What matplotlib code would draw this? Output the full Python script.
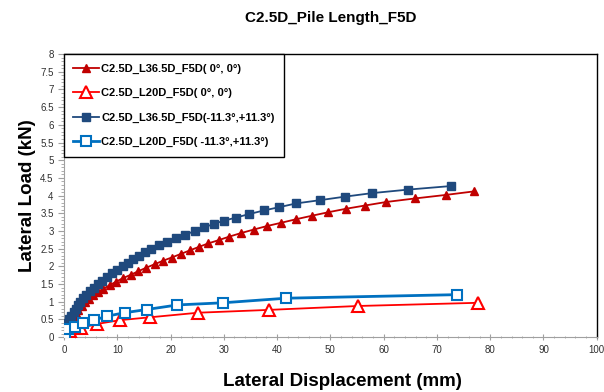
import matplotlib
matplotlib.use('Agg')
import matplotlib.pyplot as plt
from matplotlib.ticker import MultipleLocator, FuncFormatter

plt.rcParams['font.family'] = ['Liberation Sans', 'DejaVu Sans']

# C2.5D_L36.5D_F5D( 0°, 0°)  - 빨간 채운 삼각형
red_load = [0, 0.10, 0.20, 0.29, 0.39, 0.49, 0.59, 0.69, 0.78, 0.88, 0.98, 1.08, 1.18, 1.27,
            1.37, 1.47, 1.57, 1.67, 1.76, 1.86, 1.96, 2.06, 2.16, 2.25, 2.35, 2.45, 2.55, 2.65,
            2.74, 2.84, 2.94, 3.04, 3.14, 3.23, 3.33, 3.43, 3.53, 3.63, 3.72, 3.82, 3.92, 4.02, 4.12]
red_disp = [0, 0.1, 0.3, 0.6, 0.9, 1.3, 1.7, 2.2, 2.7, 3.3, 3.9, 4.6, 5.4, 6.3,
            7.4, 8.6, 9.8, 11.1, 12.5, 13.9, 15.4, 17.0, 18.6, 20.2, 21.9, 23.6, 25.3, 27.1,
            29.0, 31.0, 33.2, 35.6, 38.1, 40.7, 43.5, 46.5, 49.6, 53.0, 56.5, 60.5, 65.9, 71.7, 77.0]

# C2.5D_L20D_F5D( 0°, 0°)  - 빨간 빈 삼각형
red2_load = [0, 0.10, 0.18, 0.26, 0.37, 0.48, 0.56, 0.69, 0.77, 0.88, 0.97]
red2_disp = [0, 0.4, 1.1, 3.2, 6.1, 10.5, 16.1, 25.2, 38.5, 55.2, 77.7]

# C2.5D_L36.5D_F5D(-11.3°,+11.3°)  - 남색 채운 사각형
blue_load = [0, 0.1, 0.2, 0.3, 0.4, 0.5, 0.6, 0.7, 0.8, 0.9, 1.0, 1.1, 1.2, 1.3, 1.4, 1.5,
             1.6, 1.7, 1.8, 1.9, 2.0, 2.1, 2.2, 2.3, 2.4, 2.5, 2.6, 2.7, 2.8, 2.9, 3.0,
             3.1, 3.2, 3.29, 3.38, 3.48, 3.58, 3.67, 3.78, 3.87, 3.97, 4.07, 4.17, 4.27]
blue_disp = [0, 0.05, 0.2, 0.4, 0.7, 1.0, 1.4, 1.8, 2.2, 2.6, 3.0, 3.6, 4.2, 4.9, 5.6, 6.4,
             7.2, 8.1, 9.0, 10.0, 11.0, 12.0, 13.0, 14.1, 15.2, 16.4, 17.8, 19.3, 21.0, 22.8, 24.6,
             26.3, 28.1, 30.0, 32.3, 34.8, 37.5, 40.3, 43.6, 48.0, 52.7, 57.8, 64.6, 72.6]

# C2.5D_L20D_F5D( -11.3°,+11.3°)  - 파란 빈 사각형
blue2_load = [0, 0.10, 0.22, 0.29, 0.40, 0.48, 0.59, 0.69, 0.78, 0.91, 0.97, 1.10, 1.20]
blue2_disp = [0, 0.2, 0.8, 2.1, 3.6, 5.7, 8.0, 11.4, 15.5, 21.3, 29.8, 41.7, 73.7]

fig = plt.figure(figsize=(6.04, 3.92), dpi=100)
ax = fig.add_axes([0.106, 0.140, 0.882, 0.722])

ax.plot(red_disp, red_load, color='#C00000', lw=1.3, marker='^', ms=5.5,
        mfc='#C00000', mec='#C00000', label='C2.5D_L36.5D_F5D( 0°, 0°)', zorder=3)
ax.plot(red2_disp, red2_load, color='#FF0000', lw=1.3, marker='^', ms=9,
        mfc='white', mec='#FF0000', mew=1.5, label='C2.5D_L20D_F5D( 0°, 0°)', zorder=3)
ax.plot(blue_disp, blue_load, color='#1F497D', lw=1.3, marker='s', ms=5.5,
        mfc='#1F497D', mec='#1F497D', label='C2.5D_L36.5D_F5D(-11.3°,+11.3°)', zorder=4)
ax.plot(blue2_disp, blue2_load, color='#0070C0', lw=2.0, marker='s', ms=7.5,
        mfc='white', mec='#0070C0', mew=1.5, label='C2.5D_L20D_F5D( -11.3°,+11.3°)', zorder=4)

ax.set_xlim(0, 100)
ax.set_ylim(0, 8)
ax.xaxis.set_major_locator(MultipleLocator(10))
ax.xaxis.set_minor_locator(MultipleLocator(2))
ax.yaxis.set_major_locator(MultipleLocator(0.5))
ax.yaxis.set_minor_locator(MultipleLocator(0.1))
ax.yaxis.set_major_formatter(FuncFormatter(lambda v, p: f'{v:g}'))
ax.tick_params(which='major', direction='out', length=4, color='#A0A0A0',
               labelsize=7, labelcolor='#303030')
ax.tick_params(which='minor', direction='out', length=2, color='#A0A0A0')
ax.tick_params(axis='x', which='both', direction='inout')

for side in ['left', 'bottom']:
    ax.spines[side].set_color('#A0A0A0')
for side in ['top', 'right']:
    ax.spines[side].set_color('black')
    ax.spines[side].set_linewidth(1.0)

ax.set_xlabel('Lateral Displacement (mm)', fontsize=13.5, fontweight='bold', labelpad=13)
ax.xaxis.label.set_x(0.522)
ax.set_ylabel('Lateral Load (kN)', fontsize=13.5, fontweight='bold', labelpad=3)
fig.text(0.547, 0.953, 'C2.5D_Pile Length_F5D', ha='center', va='center',
         fontsize=11, fontweight='bold')

leg = ax.legend(loc='upper left', bbox_to_anchor=(0, 1), borderaxespad=0,
                fancybox=False, framealpha=1, edgecolor='black',
                prop={'size': 8, 'weight': 'bold'}, labelspacing=1.3,
                handlelength=2.3, handletextpad=0.2, borderpad=0.85)
leg.get_frame().set_linewidth(1.0)

fig.savefig('out.png', dpi=100)
